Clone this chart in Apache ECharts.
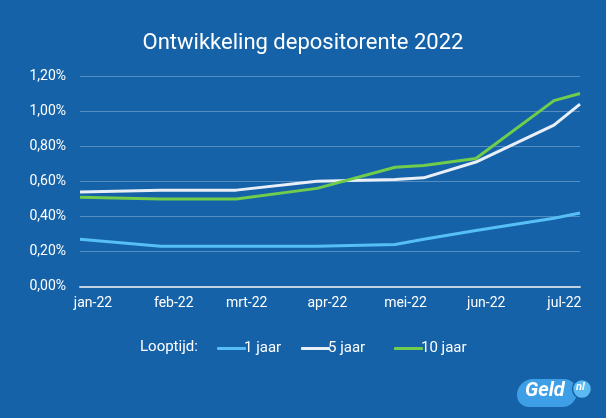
<!DOCTYPE html>
<html>
<head>
<meta charset="utf-8">
<script src="https://cdn.jsdelivr.net/npm/echarts@6/dist/echarts.min.js"></script>
<style>
html,body{margin:0;padding:0;background:#1562a8;}
#c{width:606px;height:418px;}
</style>
</head>
<body>
<div id="c"></div>
<script>
// ---- data ----
var dates = ['2021-12-27','2022-01-27','2022-02-25','2022-03-28','2022-04-27','2022-05-08','2022-05-28','2022-06-27','2022-07-07'];
var seriesNames = ['1 jaar', '5 jaar', '10 jaar'];
var jaar1  = [0.27, 0.23, 0.23, 0.23, 0.24, 0.27, 0.32, 0.39, 0.42];
var jaar5  = [0.54, 0.55, 0.55, 0.60, 0.61, 0.62, 0.71, 0.92, 1.04];
var jaar10 = [0.51, 0.50, 0.50, 0.56, 0.68, 0.69, 0.73, 1.06, 1.10];
var monthLabels = ['jan','feb','mrt','apr','mei','jun','jul','aug','sep','okt','nov','dec'];
var titleText = 'Ontwikkeling depositorente 2022';
var legendTitle = 'Looptijd:';

function pairs(vals){ return dates.map(function(d,i){ return [d, vals[i]]; }); }

var font = 'Roboto, "Noto Sans", sans-serif';
var colors = ['#56bff6', '#e8eff7', '#6fcd4b'];

var chart = echarts.init(document.getElementById('c'), null, {renderer:'canvas'});
chart.setOption({
  backgroundColor: '#1562a8',
  animation: false,
  title: {
    text: titleText, left: 'center', top: 27,
    textStyle: {color:'#ffffff', fontFamily: font, fontSize: 22, fontWeight: 'normal'}
  },
  grid: {left: 80, right: 26, top: 76, bottom: 131.3, containLabel: false},
  xAxis: {
    type: 'time',
    min: dates[0], max: dates[dates.length-1],
    splitNumber: 6,
    axisLine: {show: true, lineStyle: {color: '#c3d2e2', width: 2}},
    axisTick: {show: false},
    splitLine: {show: false},
    axisLabel: {
      color: '#ffffff', fontFamily: font, fontSize: 14, margin: 10,
      showMinLabel: false, showMaxLabel: false, hideOverlap: false,
      formatter: function(v){ var d = new Date(v); return monthLabels[d.getMonth()] + '-' + String(d.getFullYear()).slice(2); }
    }
  },
  yAxis: {
    type: 'value', min: 0, max: 1.2, interval: 0.2,
    axisLine: {show: false}, axisTick: {show: false},
    splitLine: {lineStyle: {color: 'rgba(255,255,255,0.28)', width: 1}},
    axisLabel: {
      color: '#ffffff', fontFamily: font, fontSize: 14, margin: 14,
      formatter: function(v){ return v.toFixed(2).replace('.', ',') + '%'; }
    }
  },
  legend: [
    {data:[seriesNames[0]], left: 212, top: 336},
    {data:[seriesNames[1]], left: 296, top: 336},
    {data:[seriesNames[2]], left: 389, top: 336}
  ].map(function(l){
    l.icon = 'roundRect'; l.itemWidth = 29; l.itemHeight = 3; l.itemGap = 0;
    l.textStyle = {color:'#ffffff', fontFamily: font, fontSize: 15, padding:[0,0,0,-7]};
    return l;
  }),
  graphic: [
    {type:'text', left: 140, top: 340, style:{text: legendTitle, fill:'#ffffff', font: '15px ' + font}},
    {type:'group', children: [
      {type:'rect', shape:{x:517, y:379, width:60, height:28, r:[16,14,16,12]}, style:{fill:'#3f9fe6'}},
      {type:'circle', shape:{cx:582, cy:389, r:9.5}, style:{fill:'#5bbaf2', stroke:'#1562a8', lineWidth:1.5}},
      {type:'text', x: 525, y: 381, style:{text:'Geld', fill:'#ffffff', font:'italic bold 20px ' + font}},
      {type:'text', x: 576, y: 382, style:{text:'nl', fill:'#ffffff', font:'italic bold 11px ' + font}}
    ]}
  ],
  series: [
    {name: seriesNames[0], type:'line', data: pairs(jaar1), symbol:'none', lineStyle:{width:3, color: colors[0]}, itemStyle:{color: colors[0]}},
    {name: seriesNames[1], type:'line', data: pairs(jaar5), symbol:'none', lineStyle:{width:3, color: colors[1]}, itemStyle:{color: colors[1]}},
    {name: seriesNames[2], type:'line', data: pairs(jaar10), symbol:'none', lineStyle:{width:3, color: colors[2]}, itemStyle:{color: colors[2]}}
  ]
});
</script>
</body>
</html>
